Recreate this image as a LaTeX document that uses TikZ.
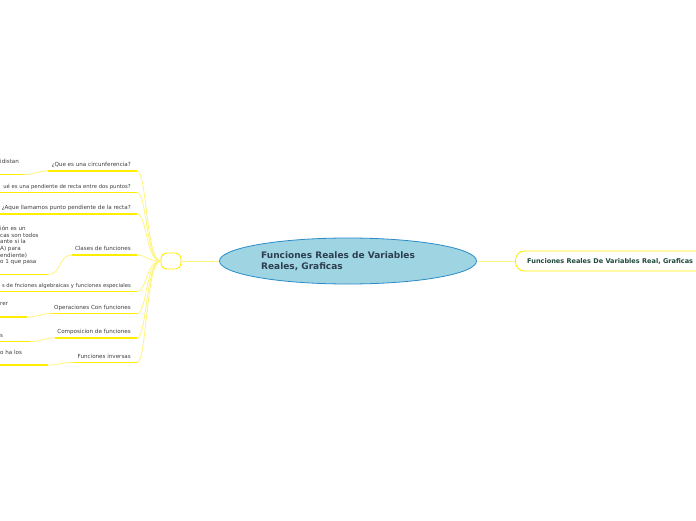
\documentclass[tikz,border=0pt]{standalone}
\usepackage{fontspec}
\setmainfont{DejaVu Sans}
\usetikzlibrary{shapes.geometric}
\definecolor{uline}{HTML}{FFEE00}
\definecolor{conn}{HTML}{FFF47A}
\definecolor{lbl}{HTML}{3C3C3C}
\definecolor{elfill}{HTML}{9FD5E3}
\definecolor{eldraw}{HTML}{2A8BC9}
\definecolor{eltext}{HTML}{2D3E4E}
\definecolor{rtext}{HTML}{1F4A3A}
\begin{document}
\begin{tikzpicture}[x=1pt,y=-1pt,
  lab/.style={font=\fontsize{5.6}{6.6}\selectfont, text=lbl, inner sep=0pt},
  labs/.style={lab, font=\fontsize{5.3}{6.6}\selectfont},
  ul/.style={draw=uline, line width=1.8pt},
  cn/.style={draw=conn, line width=0.8pt},
  box/.style={draw=uline, line width=0.9pt, fill=white}]
\useasboundingbox (0,0) rectangle (696,520);
\clip (0,0) rectangle (696,520);

% central
\node[ellipse, draw=eldraw, fill=elfill, minimum width=257pt, minimum height=46pt, line width=0.8pt, inner sep=0pt] (root) at (348,261) {};
\node[anchor=west, align=left, inner sep=0pt, font=\bfseries\fontsize{9}{10.5}\selectfont, text=eltext] (roottxt) at (261,261) {Funciones Reales de Variables\\Reales, Graficas};

% hub
\node[box, rounded corners=6pt, minimum width=20pt, minimum height=16pt, inner sep=0pt] (hub) at (171,261) {};
\draw[cn] (hub.east) -- (root.west);

% right
\node[box, rounded corners=9pt, anchor=west, minimum width=230pt, minimum height=20pt, inner sep=0pt] (right) at (515,261) {};
\node[anchor=west, inner sep=0pt, font=\bfseries\fontsize{6.55}{8}\selectfont, text=rtext] (righttxt) at (527,261) {Funciones Reales De Variables Real, Graficas};
\draw[cn] (root.east) -- (right.west);

% branch 1
\coordinate (b1s) at (48,171); \coordinate (b1e) at (137,171);
\node[lab, anchor=east] (l1) at (131,165) {¿Que es una circunferencia?};
\draw[ul] (b1s) -- (b1e);
\coordinate (c1s) at (0,174.5); \coordinate (c1e) at (24,174.5);
\node[lab, anchor=west] (k1) at (0,161) {idistan};
\draw[ul] (c1s) -- (c1e);
\draw[cn] (c1e) .. controls (36,174.5) and (36,171) .. (b1s);

% branch 2
\coordinate (b2s) at (0,192.5); \coordinate (b2e) at (137,192.5);
\node[labs, anchor=east] (l2) at (131,186.5) {ué es una pendiente de recta entre dos puntos?};
\draw[ul] (b2s) -- (b2e);

% branch 3
\coordinate (b3s) at (0,214); \coordinate (b3e) at (137,214);
\node[lab, anchor=east] (l3) at (131,207.5) {¿Aque llamamos punto pendiente de la recta?};
\draw[ul] (b3s) -- (b3e);

% branch 4
\coordinate (b4s) at (72,255); \coordinate (b4e) at (137,255);
\node[lab, anchor=east] (l4) at (131,248.5) {Clases de funciones};
\draw[ul] (b4s) -- (b4e);
\coordinate (c4s) at (0,274.5); \coordinate (c4e) at (48,274.5);
\node[lab, anchor=west, align=left] (k4) at (0,245.5) {ión es un\\cas son todos\\ante si la\\A) para\\endiente)\\o 1 que pasa};
\draw[ul] (c4s) -- (c4e);
\draw[cn] (c4e) .. controls (62,274.5) and (58,255) .. (b4s);

% branch 5
\coordinate (b5s) at (0,291.5); \coordinate (b5e) at (137,291.5);
\node[labs, anchor=east] (l5) at (131,286) {s de fnciones algebraicas y funciones especiales};
\draw[ul] (b5s) -- (b5e);

% branch 6
\coordinate (b6s) at (52,313.5); \coordinate (b6e) at (137,313.5);
\node[lab, anchor=east] (l6) at (131,307.5) {Operaciones Con funciones};
\draw[ul] (b6s) -- (b6e);
\coordinate (c6s) at (0,317); \coordinate (c6e) at (27,317);
\node[lab, anchor=west] (k6) at (0,304) {rer};
\draw[ul] (c6s) -- (c6e);
\draw[cn] (c6e) .. controls (40,317) and (39,313.5) .. (b6s);

% branch 7
\coordinate (b7s) at (55,338); \coordinate (b7e) at (137,338);
\node[lab, anchor=east] (l7) at (131,332) {Composicion de funciones};
\draw[ul] (b7s) -- (b7e);
\coordinate (c7s) at (0,341.5); \coordinate (c7e) at (30,341.5);
\node[lab, anchor=west] (k7) at (0,335.5) {s};
\draw[ul] (c7s) -- (c7e);
\draw[cn] (c7e) .. controls (43,341.5) and (42,338) .. (b7s);

% branch 8
\coordinate (b8s) at (73,362.5); \coordinate (b8e) at (137,362.5);
\node[lab, anchor=east] (l8) at (131,356) {Funciones inversas};
\draw[ul] (b8s) -- (b8e);
\coordinate (c8s) at (0,365); \coordinate (c8e) at (48,365);
\node[lab, anchor=west] (k8) at (0,352) {o ha los};
\draw[ul] (c8s) -- (c8e);
\draw[cn] (c8e) .. controls (61,365) and (60,362.5) .. (b8s);

% hub connectors
\foreach \b in {b1e,b2e,b3e,b4e,b5e,b6e,b7e,b8e}
  \draw[cn] (\b) .. controls ++(10,0) and (146,261) .. (hub.west);
\end{tikzpicture}
\end{document}
